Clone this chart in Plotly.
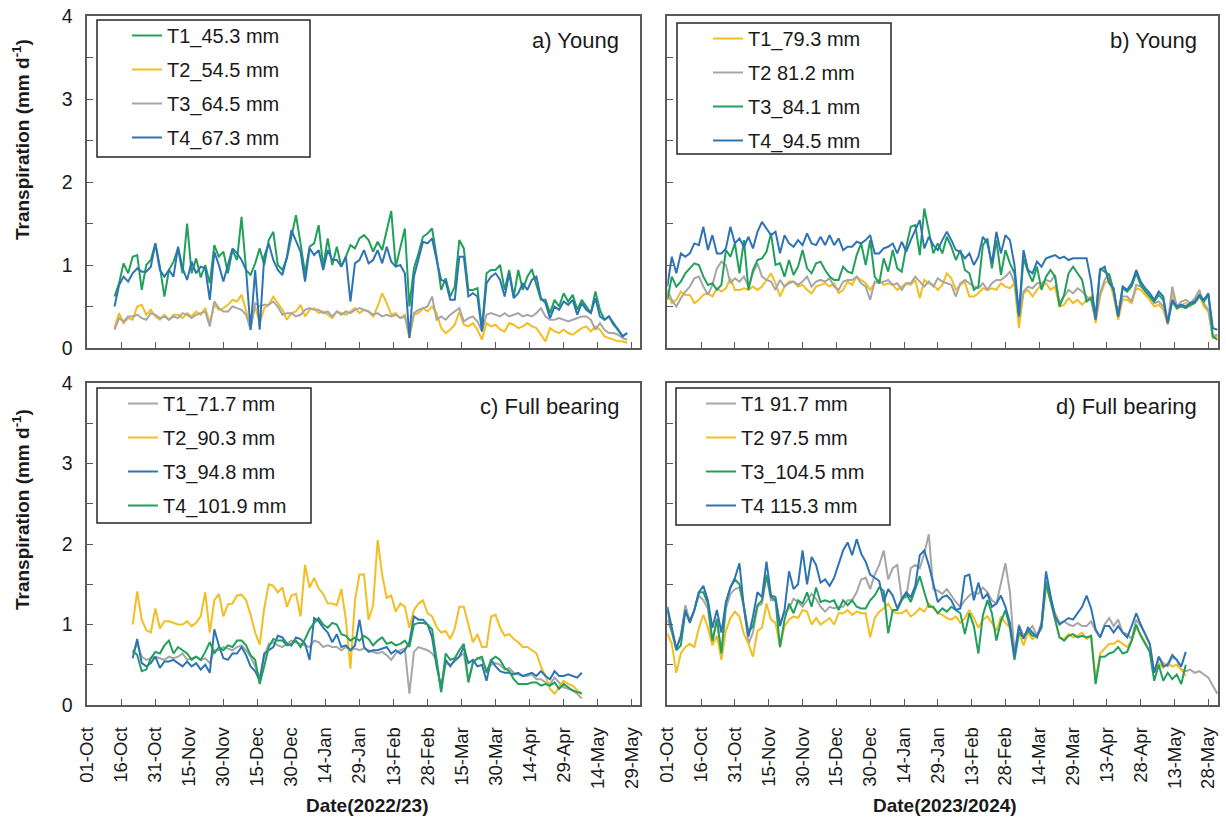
import pandas as pd
import plotly.graph_objects as go

# ---- colours -------------------------------------------------------------
GREEN = "#21A05B"
GOLD = "#F2BE22"
GREY = "#A6A6A6"
BLUE = "#2E74B5"
AXIS = "#595959"
TEXT = "#1a1a1a"
FONT = "Liberation Sans, Arial, sans-serif"

STEP = "2D"  # values are read every second day

# ---- panel a) Young, 2022/23 (first value 13-Oct-2022) -------------------
a_start = "2022-10-13"
a_T1 = [0.62, 0.78, 1.02, 0.90, 1.10, 1.12, 0.70, 1.00, 1.06, 1.26,
        0.98, 0.62, 0.94, 1.04, 1.20, 0.90, 1.50, 0.90, 1.08, 0.85,
        1.00, 0.78, 1.24, 1.10, 1.16, 0.90, 1.18, 1.06, 1.58, 0.94,
        0.88, 1.02, 1.20, 1.00, 1.30, 1.40, 1.00, 0.94, 1.08, 1.36,
        1.60, 1.26, 0.90, 1.22, 1.26, 1.48, 0.98, 1.32, 1.00, 1.22,
        0.98, 1.10, 1.24, 1.20, 1.32, 1.36, 1.30, 1.16, 1.28, 1.18,
        1.40, 1.65, 0.98, 1.22, 1.44, 0.50, 0.96, 1.14, 1.34, 1.38,
        1.44, 1.10, 0.70, 0.84, 0.62, 0.74, 1.30, 1.20, 0.70, 0.70,
        0.72, 0.22, 0.90, 0.94, 0.94, 1.00, 0.70, 0.94, 0.62, 0.94,
        0.70, 0.86, 0.95, 0.76, 0.58, 0.58, 0.42, 0.58, 0.50, 0.66,
        0.56, 0.64, 0.46, 0.58, 0.50, 0.42, 0.68, 0.46, 0.34, 0.38,
        0.30, 0.22, 0.14, 0.18]
a_T2 = [0.24, 0.42, 0.30, 0.36, 0.34, 0.50, 0.52, 0.40, 0.46, 0.38,
        0.34, 0.40, 0.34, 0.40, 0.40, 0.36, 0.42, 0.38, 0.44, 0.40,
        0.48, 0.30, 0.52, 0.46, 0.48, 0.52, 0.58, 0.56, 0.64, 0.46,
        0.26, 0.50, 0.30, 0.48, 0.52, 0.62, 0.54, 0.46, 0.34, 0.42,
        0.44, 0.52, 0.38, 0.46, 0.48, 0.42, 0.44, 0.40, 0.36, 0.44,
        0.42, 0.40, 0.44, 0.48, 0.42, 0.46, 0.44, 0.38, 0.50, 0.66,
        0.54, 0.40, 0.42, 0.36, 0.40, 0.12, 0.40, 0.42, 0.48, 0.44,
        0.50, 0.42, 0.24, 0.18, 0.22, 0.28, 0.44, 0.28, 0.26, 0.30,
        0.22, 0.10, 0.30, 0.26, 0.28, 0.22, 0.20, 0.30, 0.28, 0.24,
        0.26, 0.30, 0.26, 0.24, 0.16, 0.08, 0.24, 0.20, 0.18, 0.22,
        0.18, 0.16, 0.20, 0.24, 0.26, 0.20, 0.26, 0.22, 0.14, 0.12,
        0.10, 0.08, 0.08, 0.06]
a_T3 = [0.22, 0.36, 0.32, 0.38, 0.38, 0.40, 0.36, 0.34, 0.42, 0.40,
        0.36, 0.38, 0.34, 0.38, 0.36, 0.42, 0.40, 0.36, 0.40, 0.42,
        0.44, 0.26, 0.56, 0.48, 0.44, 0.44, 0.50, 0.48, 0.46, 0.40,
        0.22, 0.54, 0.50, 0.52, 0.52, 0.56, 0.50, 0.40, 0.42, 0.42,
        0.38, 0.40, 0.46, 0.48, 0.46, 0.46, 0.42, 0.44, 0.38, 0.44,
        0.40, 0.44, 0.42, 0.46, 0.48, 0.46, 0.44, 0.40, 0.42, 0.38,
        0.40, 0.38, 0.40, 0.36, 0.38, 0.14, 0.42, 0.46, 0.48, 0.50,
        0.62, 0.34, 0.38, 0.34, 0.40, 0.44, 0.48, 0.32, 0.36, 0.38,
        0.32, 0.20, 0.40, 0.42, 0.40, 0.38, 0.42, 0.38, 0.40, 0.42,
        0.38, 0.40, 0.38, 0.42, 0.48, 0.38, 0.34, 0.34, 0.36, 0.34,
        0.32, 0.34, 0.36, 0.38, 0.38, 0.34, 0.22, 0.30, 0.22, 0.18,
        0.18, 0.16, 0.12, 0.10]
a_T4 = [0.50, 0.76, 0.86, 0.80, 0.90, 0.96, 0.92, 0.92, 0.98, 1.26,
        0.94, 0.86, 0.94, 0.86, 1.22, 0.96, 0.82, 1.04, 0.90, 0.98,
        0.96, 0.58, 1.16, 1.00, 0.80, 1.00, 1.20, 1.14, 1.06, 0.94,
        0.22, 0.94, 0.22, 1.10, 1.26, 1.06, 0.94, 0.88, 1.10, 1.42,
        1.28, 1.16, 0.80, 1.20, 1.12, 1.18, 0.94, 1.18, 1.06, 1.06,
        0.98, 1.10, 0.56, 1.02, 1.06, 1.18, 1.02, 1.06, 1.18, 1.02,
        1.22, 1.04, 0.98, 1.00, 0.90, 0.12, 0.86, 1.08, 1.28, 1.26,
        1.32, 1.06, 0.82, 0.80, 0.58, 0.58, 1.10, 1.10, 0.62, 0.66,
        0.62, 0.20, 0.78, 0.86, 0.90, 0.82, 0.62, 0.90, 0.60, 0.66,
        0.78, 0.70, 0.82, 0.86, 0.60, 0.54, 0.36, 0.50, 0.46, 0.56,
        0.52, 0.58, 0.40, 0.54, 0.46, 0.42, 0.60, 0.38, 0.34, 0.38,
        0.28, 0.22, 0.14, 0.18]

# ---- panel b) Young, 2023/2024 (first value 01-Oct-2023) -----------------
b_start = "2023-10-01"
b_T1 = [0.66, 0.54, 0.58, 0.68, 0.64, 0.64, 0.54, 0.58, 0.64, 0.66,
        0.62, 0.72, 0.68, 0.72, 0.84, 0.70, 0.70, 0.72, 0.70, 0.74,
        0.70, 0.74, 0.82, 0.90, 0.78, 0.62, 0.74, 0.80, 0.80, 0.74,
        0.76, 0.70, 0.66, 0.74, 0.76, 0.78, 0.74, 0.78, 0.66, 0.70,
        0.80, 0.76, 0.86, 0.82, 0.78, 0.70, 0.78, 0.82, 0.76, 0.78,
        0.76, 0.70, 0.74, 0.78, 0.76, 0.82, 0.60, 0.82, 0.78, 0.76,
        0.70, 0.76, 0.90, 0.84, 0.70, 0.76, 0.80, 0.62, 0.62, 0.66,
        0.72, 0.70, 0.72, 0.70, 0.78, 0.74, 0.72, 0.78, 0.24, 0.66,
        0.70, 0.62, 0.70, 0.76, 0.78, 0.70, 0.74, 0.50, 0.52, 0.60,
        0.54, 0.58, 0.52, 0.58, 0.62, 0.30, 0.62, 0.78, 0.82, 0.62,
        0.34, 0.58, 0.58, 0.54, 0.72, 0.70, 0.64, 0.58, 0.50, 0.52,
        0.46, 0.28, 0.66, 0.46, 0.52, 0.54, 0.50, 0.56, 0.64, 0.50,
        0.44, 0.12, 0.14]
b_T2 = [0.70, 0.58, 0.50, 0.60, 0.68, 0.74, 0.84, 0.86, 0.74, 0.64,
        0.76, 0.96, 1.04, 1.00, 0.78, 0.84, 0.80, 0.86, 0.74, 0.90,
        1.02, 0.86, 0.82, 0.80, 0.70, 0.82, 0.74, 0.78, 0.80, 0.76,
        0.80, 0.86, 0.74, 0.80, 0.82, 0.80, 0.84, 0.74, 0.70, 0.80,
        0.82, 0.82, 0.86, 0.78, 0.74, 0.58, 0.80, 0.78, 0.80, 0.82,
        0.76, 0.78, 0.70, 0.78, 0.78, 0.86, 0.80, 0.74, 0.80, 0.74,
        0.84, 0.80, 0.78, 0.76, 0.62, 0.78, 0.82, 0.78, 0.74, 0.72,
        0.78, 0.70, 0.78, 0.82, 0.82, 0.86, 0.92, 0.78, 0.36, 0.68,
        0.74, 0.72, 0.78, 0.78, 0.82, 0.80, 0.88, 0.54, 0.62, 0.70,
        0.66, 0.72, 0.68, 0.62, 0.58, 0.34, 0.66, 0.82, 0.90, 0.68,
        0.38, 0.62, 0.62, 0.56, 0.76, 0.74, 0.70, 0.62, 0.54, 0.56,
        0.50, 0.30, 0.74, 0.50, 0.56, 0.58, 0.54, 0.60, 0.70, 0.54,
        0.46, 0.14, 0.16]
b_T3 = [0.58, 0.86, 0.74, 0.80, 0.90, 0.96, 1.02, 1.00, 0.86, 0.76,
        0.78, 0.70, 0.76, 1.18, 1.10, 1.26, 0.90, 1.30, 0.70, 0.94,
        1.06, 1.08, 1.16, 1.38, 1.00, 1.02, 0.86, 1.06, 0.88, 0.98,
        1.18, 0.96, 0.90, 1.02, 1.04, 0.94, 0.86, 0.82, 0.82, 0.98,
        0.92, 0.90, 1.12, 1.26, 1.00, 1.30, 0.86, 0.78, 1.08, 0.92,
        1.18, 0.96, 0.92, 1.22, 1.46, 1.48, 1.12, 1.68, 1.40, 1.14,
        1.26, 1.14, 1.34, 1.22, 1.06, 1.18, 0.94, 0.90, 0.70, 0.74,
        1.24, 1.32, 0.96, 1.30, 0.88, 1.18, 1.02, 0.90, 0.38, 1.08,
        0.92, 0.80, 0.98, 0.70, 0.86, 0.94, 0.86, 0.50, 0.64, 0.90,
        0.98, 0.90, 0.82, 0.56, 0.60, 0.38, 0.96, 0.92, 0.88, 0.68,
        0.38, 0.72, 0.68, 0.74, 0.90, 0.76, 0.68, 0.62, 0.56, 0.64,
        0.58, 0.30, 0.56, 0.48, 0.50, 0.48, 0.52, 0.54, 0.62, 0.56,
        0.64, 0.14, 0.10]
b_T4 = [0.74, 1.10, 0.90, 1.14, 1.10, 1.14, 1.26, 1.24, 1.46, 1.18,
        1.36, 1.14, 1.14, 1.20, 1.46, 1.26, 1.32, 1.22, 1.34, 1.20,
        1.40, 1.52, 1.44, 1.36, 1.40, 1.14, 1.36, 1.26, 1.22, 1.30,
        1.24, 1.38, 1.26, 1.24, 1.34, 1.24, 1.36, 1.24, 1.32, 1.18,
        1.22, 1.22, 1.28, 1.26, 1.30, 1.36, 1.14, 1.14, 1.20, 1.22,
        1.26, 1.14, 1.28, 1.16, 1.30, 1.42, 1.54, 1.20, 1.34, 1.24,
        1.18, 1.30, 1.40, 1.30, 1.18, 1.16, 1.08, 1.14, 1.00, 1.10,
        1.34, 1.26, 1.02, 1.40, 1.14, 1.36, 1.30, 1.00, 0.40, 1.18,
        0.94, 0.90, 1.04, 0.98, 1.08, 1.10, 1.12, 1.08, 1.10, 1.06,
        1.08, 1.08, 1.08, 1.08, 0.80, 0.34, 0.94, 0.98, 0.78, 0.72,
        0.38, 0.74, 0.70, 0.78, 0.94, 0.80, 0.72, 0.66, 0.58, 0.68,
        0.62, 0.30, 0.58, 0.50, 0.52, 0.50, 0.54, 0.56, 0.64, 0.58,
        0.66, 0.24, 0.22]

# ---- panel c) Full bearing, 2022/23 (first value 21-Oct-2022) ------------
c_start = "2022-10-21"
c_T1 = [0.64, 0.76, 0.60, 0.56, 0.58, 0.60, 0.58, 0.56, 0.60, 0.58,
        0.60, 0.64, 0.56, 0.58, 0.60, 0.56, 0.58, 0.52, 0.68, 0.68,
        0.72, 0.70, 0.68, 0.72, 0.74, 0.68, 0.60, 0.48, 0.34, 0.60,
        0.76, 0.78, 0.74, 0.72, 0.76, 0.80, 0.78, 0.76, 0.74, 0.72,
        0.80, 0.78, 0.72, 0.74, 0.72, 0.72, 0.68, 0.72, 0.68, 0.70,
        0.68, 0.70, 0.68, 0.66, 0.64, 0.66, 0.62, 0.56, 0.64, 0.68,
        0.70, 0.14, 0.66, 0.72, 0.70, 0.68, 0.64, 0.56, 0.16, 0.52,
        0.50, 0.54, 0.60, 0.64, 0.30, 0.54, 0.58, 0.56, 0.44, 0.50,
        0.52, 0.50, 0.44, 0.46, 0.40, 0.38, 0.36, 0.36, 0.38, 0.32,
        0.32, 0.28, 0.26, 0.34, 0.28, 0.22, 0.20, 0.18, 0.14, 0.08]
c_T2 = [1.00, 1.41, 1.06, 0.93, 0.90, 1.20, 0.95, 1.04, 1.04, 1.02,
        1.00, 1.00, 1.04, 0.98, 1.02, 1.10, 1.40, 0.90, 1.30, 1.38,
        1.10, 1.25, 1.26, 1.36, 1.37, 1.30, 1.12, 0.90, 0.75, 1.20,
        1.50, 1.48, 1.40, 1.46, 1.22, 1.36, 1.38, 1.10, 1.74, 1.46,
        1.58, 1.45, 1.38, 1.26, 1.26, 1.24, 1.44, 1.06, 0.45, 1.30,
        1.62, 1.62, 1.06, 1.24, 2.05, 1.62, 1.33, 1.36, 1.16, 1.26,
        1.22, 0.96, 1.18, 1.26, 1.30, 1.14, 1.10, 0.97, 0.90, 0.92,
        0.82, 0.95, 1.22, 1.22, 0.98, 0.78, 0.88, 0.72, 0.72, 1.10,
        1.12, 0.96, 0.86, 0.88, 0.82, 0.78, 0.72, 0.72, 0.68, 0.64,
        0.48, 0.36, 0.20, 0.14, 0.22, 0.30, 0.26, 0.24, 0.18, 0.13]
c_T3 = [0.58, 0.82, 0.52, 0.48, 0.52, 0.60, 0.46, 0.54, 0.54, 0.56,
        0.52, 0.48, 0.54, 0.48, 0.52, 0.44, 0.50, 0.40, 0.94, 0.74,
        0.58, 0.56, 0.64, 0.64, 0.72, 0.62, 0.48, 0.42, 0.30, 0.64,
        0.68, 0.72, 0.86, 0.84, 0.76, 0.74, 0.84, 0.82, 0.76, 0.56,
        1.08, 1.04, 0.96, 0.90, 0.78, 0.88, 0.72, 0.74, 0.68, 0.74,
        1.06, 0.72, 0.66, 0.68, 0.68, 0.70, 0.72, 0.64, 0.68, 0.64,
        0.68, 0.78, 1.10, 1.06, 1.06, 1.00, 0.84, 0.48, 0.22, 0.56,
        0.48, 0.56, 0.60, 0.72, 0.52, 0.56, 0.48, 0.50, 0.30, 0.56,
        0.48, 0.42, 0.40, 0.40, 0.38, 0.40, 0.36, 0.38, 0.40, 0.36,
        0.42, 0.36, 0.32, 0.42, 0.36, 0.36, 0.38, 0.36, 0.34, 0.40]
c_T4 = [0.68, 0.62, 0.42, 0.44, 0.58, 0.66, 0.64, 0.74, 0.80, 0.64,
        0.72, 0.68, 0.64, 0.56, 0.60, 0.56, 0.66, 0.78, 0.64, 0.72,
        0.68, 0.74, 0.72, 0.80, 0.80, 0.74, 0.62, 0.56, 0.26, 0.48,
        0.72, 0.82, 0.80, 0.80, 0.74, 0.76, 0.80, 0.72, 0.82, 0.94,
        1.02, 1.08, 1.00, 0.96, 1.02, 1.00, 0.88, 0.86, 0.80, 0.84,
        0.80, 0.86, 0.82, 0.74, 0.80, 0.84, 0.76, 0.78, 0.74, 0.76,
        0.80, 0.72, 1.00, 1.02, 1.02, 1.00, 0.94, 0.56, 0.16, 0.64,
        0.56, 0.58, 0.68, 0.76, 0.28, 0.52, 0.58, 0.60, 0.40, 0.56,
        0.60, 0.56, 0.46, 0.42, 0.32, 0.26, 0.26, 0.26, 0.28, 0.28,
        0.24, 0.26, 0.24, 0.28, 0.20, 0.26, 0.22, 0.18, 0.16, 0.15]

# ---- panel d) Full bearing, 2023/2024 (first value 01-Oct-2023) ----------
d_start = "2023-10-01"
d_T1 = [1.06, 0.90, 0.70, 0.84, 1.24, 1.04, 1.18, 1.36, 1.30, 1.20,
        0.76, 1.08, 0.64, 1.20, 1.38, 1.44, 1.46, 1.22, 0.76, 0.90,
        1.22, 1.26, 1.60, 1.30, 1.30, 1.02, 1.14, 1.20, 1.32, 1.28,
        1.22, 1.30, 1.38, 1.32, 1.22, 1.16, 1.22, 1.20, 1.22, 1.22,
        1.30, 1.30, 1.40, 1.56, 1.58, 1.44, 1.62, 1.74, 1.92, 1.56,
        1.70, 1.74, 1.32, 1.34, 1.70, 1.74, 1.70, 1.88, 2.12, 1.44,
        1.42, 1.38, 1.44, 1.36, 1.28, 1.22, 1.30, 1.36, 1.40, 1.38,
        1.46, 1.40, 1.30, 1.26, 1.50, 1.76, 1.40, 0.64, 1.00, 0.86,
        0.92, 0.98, 0.86, 1.02, 1.54, 1.30, 1.14, 1.02, 1.04, 1.00,
        0.98, 1.02, 0.98, 0.98, 1.04, 0.92, 0.84, 1.00, 1.08, 0.98,
        1.06, 0.90, 0.88, 0.82, 1.06, 0.98, 0.88, 0.76, 0.40, 0.60,
        0.52, 0.48, 0.60, 0.56, 0.44, 0.42, 0.44, 0.40, 0.42, 0.38,
        0.34, 0.24, 0.14]
d_T2 = [0.89, 0.76, 0.40, 0.64, 0.72, 0.76, 0.72, 0.96, 1.12, 0.96,
        0.74, 0.86, 0.56, 0.92, 1.08, 1.16, 1.10, 0.88, 0.76, 0.60,
        0.92, 0.96, 1.26, 1.06, 1.02, 0.72, 0.98, 1.06, 1.10, 1.08,
        1.18, 1.16, 1.00, 1.08, 1.00, 1.04, 1.08, 1.00, 1.14, 1.14,
        1.18, 1.12, 1.16, 1.14, 1.14, 0.84, 1.08, 1.16, 1.20, 1.26,
        1.16, 1.14, 1.14, 1.18, 1.10, 1.14, 1.20, 1.16, 1.26, 1.20,
        1.14, 1.12, 1.08, 1.06, 1.10, 1.02, 1.08, 1.18, 1.08, 0.96,
        1.06, 1.10, 1.02, 0.92, 1.10, 1.02, 0.96, 0.62, 0.90, 0.74,
        0.90, 0.82, 0.86, 0.96, 1.46, 1.30, 1.06, 0.84, 0.82, 0.88,
        0.84, 0.86, 0.90, 0.82, 0.86, 0.32, 0.64, 0.70, 0.76, 0.76,
        0.80, 0.76, 0.72, 0.80, 0.96, 0.88, 0.78, 0.66, 0.40, 0.52,
        0.46, 0.52, 0.48, 0.50, 0.44, 0.36]
d_T3 = [1.18, 0.92, 0.68, 0.74, 1.16, 1.04, 1.18, 1.40, 1.40, 1.26,
        0.80, 1.06, 0.64, 1.26, 1.46, 1.56, 1.50, 1.22, 0.90, 0.98,
        1.24, 1.30, 1.62, 1.34, 1.30, 0.72, 1.06, 1.26, 1.14, 1.30,
        1.26, 1.40, 1.22, 1.46, 1.28, 1.30, 1.28, 1.30, 1.18, 1.30,
        1.24, 1.30, 1.22, 1.20, 1.20, 1.30, 1.36, 1.46, 1.42, 0.89,
        1.18, 1.18, 1.30, 1.38, 1.28, 1.44, 1.60, 1.40, 1.22, 1.22,
        1.14, 1.20, 1.16, 1.22, 1.18, 1.14, 0.88, 1.14, 0.98, 0.64,
        1.12, 1.30, 1.14, 0.80, 1.04, 1.18, 0.96, 0.56, 0.90, 0.84,
        0.92, 0.86, 0.86, 0.96, 1.52, 1.30, 1.06, 0.84, 0.80, 0.86,
        0.88, 0.84, 0.86, 0.84, 0.86, 0.26, 0.60, 0.60, 0.64, 0.66,
        0.72, 0.64, 0.66, 0.80, 1.00, 0.86, 0.76, 0.66, 0.30, 0.50,
        0.30, 0.40, 0.32, 0.38, 0.26, 0.50]
d_T4 = [1.22, 0.98, 0.70, 0.86, 1.18, 1.02, 1.18, 1.40, 1.48, 1.30,
        0.96, 1.18, 0.90, 1.28, 1.46, 1.58, 1.76, 1.20, 0.85, 1.10,
        1.40, 1.34, 1.78, 1.36, 1.34, 0.98, 1.18, 1.66, 1.44, 1.50,
        1.92, 1.50, 1.84, 1.74, 1.52, 1.56, 1.48, 1.58, 1.74, 1.92,
        2.02, 1.86, 2.06, 1.88, 1.78, 1.62, 1.58, 1.54, 1.28, 1.44,
        1.36, 1.20, 1.32, 1.40, 1.34, 1.48, 1.86, 1.92, 1.74, 1.50,
        1.28, 1.34, 1.36, 1.30, 1.18, 1.20, 1.60, 1.62, 1.30, 1.52,
        1.32, 1.38, 1.22, 1.26, 1.36, 1.22, 1.02, 0.60, 0.98, 0.82,
        0.96, 0.90, 0.84, 1.00, 1.66, 1.36, 1.10, 1.00, 1.04, 1.08,
        1.06, 1.14, 1.22, 1.36, 1.20, 0.94, 0.84, 0.98, 0.98, 0.90,
        0.98, 0.90, 0.84, 0.98, 1.14, 1.00, 0.88, 0.76, 0.40, 0.60,
        0.48, 0.50, 0.62, 0.56, 0.48, 0.66]

# ---- legend labels and titles --------------------------------------------
a_names = ["T1_45.3 mm", "T2_54.5 mm", "T3_64.5 mm", "T4_67.3 mm"]
b_names = ["T1_79.3 mm", "T2 81.2 mm", "T3_84.1 mm", "T4_94.5 mm"]
c_names = ["T1_71.7 mm", "T2_90.3 mm", "T3_94.8 mm", "T4_101.9 mm"]
d_names = ["T1 91.7 mm", "T2 97.5 mm", "T3_104.5 mm", "T4 115.3 mm"]
panel_titles = ["a) Young", "b) Young", "c) Full bearing", "d) Full bearing"]
season_titles = ["Date(2022/23)", "Date(2023/2024)"]
y_title = "Transpiration (mm d<sup>-1</sup>)"

y_tick_vals = [0, 0.5, 1, 1.5, 2, 2.5, 3, 3.5, 4]
y_tick_text = ["0", "", "1", "", "2", "", "3", "", "4"]

panels = [
    # (start, series, names, colours, axis suffix, legend id)
    (a_start, [a_T1, a_T2, a_T3, a_T4], a_names, [GREEN, GOLD, GREY, BLUE], "", "legend"),
    (b_start, [b_T1, b_T2, b_T3, b_T4], b_names, [GOLD, GREY, GREEN, BLUE], "2", "legend2"),
    (c_start, [c_T1, c_T2, c_T3, c_T4], c_names, [GREY, GOLD, BLUE, GREEN], "3", "legend3"),
    (d_start, [d_T1, d_T2, d_T3, d_T4], d_names, [GREY, GOLD, GREEN, BLUE], "4", "legend4"),
]

fig = go.Figure()
for p_idx, (start, series, names, colours, sfx, leg) in enumerate(panels):
    for s_idx, (vals, name, col) in enumerate(zip(series, names, colours)):
        x = pd.date_range(start, periods=len(vals), freq=STEP)
        fig.add_trace(go.Scatter(
            x=x, y=vals, mode="lines", name=name,
            line=dict(color=col, width=2),
            xaxis="x" + sfx, yaxis="y" + sfx,
            legend=leg, legendgroup=f"p{p_idx}s{s_idx}",
        ))

# ---- layout ---------------------------------------------------------------
W, H = 1226, 820
left_dom = [87.3 / W, 640 / W]
right_dom = [667.3 / W, 1218 / W]
top_dom = [1 - 348 / H, 1 - 16 / H]
bot_dom = [1 - 705 / H, 1 - 383 / H]

DAY_MS = 86400000
common_axis = dict(showline=True, mirror=True, linecolor=AXIS, linewidth=1.6,
                   ticks="inside", ticklen=6, tickwidth=1.3, tickcolor=AXIS,
                   showgrid=False, zeroline=False, automargin=False)


def x_axis(domain, anchor, season, labels):
    if season == 1:
        rng = ["2022-10-01", "2023-06-01 16:00"]
        t0 = "2022-10-01"
    else:
        rng = ["2023-10-01", "2024-06-01 07:00"]
        t0 = "2023-10-01"
    return dict(common_axis, domain=domain, anchor=anchor, type="date", range=rng,
                tick0=t0, dtick=15 * DAY_MS, tickformat="%d-%b", tickangle=-90,
                showticklabels=labels, ticklabelstandoff=13,
                tickfont=dict(family=FONT, size=18.5, color=TEXT))


def y_axis(domain, anchor, labels):
    return dict(common_axis, domain=domain, anchor=anchor, range=[0, 4],
                tickmode="array", tickvals=y_tick_vals, ticktext=y_tick_text,
                showticklabels=labels, ticklabelstandoff=9,
                tickfont=dict(family=FONT, size=19.5, color=TEXT))


def legend_at(x_px, y_px):
    # frameless legend; its frame is drawn as a separate rectangle
    return dict(x=x_px / W, y=1 - y_px / H, xanchor="left", yanchor="top",
                xref="paper", yref="paper",
                bgcolor="rgba(255,255,255,0)", borderwidth=0,
                font=dict(family=FONT, size=20, color=TEXT),
                tracegroupgap=5, itemwidth=30)


# legend frames (left, top, right, bottom in pixels)
legend_frames = [(97, 20, 310, 157), (677, 23, 891, 154),
                 (97, 388, 311, 523), (676, 388, 890, 525)]

fig.update_layout(
    width=W, height=H,
    margin=dict(l=0, r=0, t=0, b=0, autoexpand=False),
    paper_bgcolor="white", plot_bgcolor="white",
    font=dict(family=FONT, color=TEXT),
    showlegend=True,
    xaxis=x_axis(left_dom, "y", 1, False),
    yaxis=y_axis(top_dom, "x", True),
    xaxis2=x_axis(right_dom, "y2", 2, False),
    yaxis2=y_axis(top_dom, "x2", False),
    xaxis3=x_axis(left_dom, "y3", 1, True),
    yaxis3=y_axis(bot_dom, "x3", True),
    xaxis4=x_axis(right_dom, "y4", 2, True),
    yaxis4=y_axis(bot_dom, "x4", False),
    legend=legend_at(127, 16),
    legend2=legend_at(708, 19),
    legend3=legend_at(123, 384),
    legend4=legend_at(701, 384),
)

for (x0, y0, x1, y1) in legend_frames:
    fig.add_shape(type="rect", xref="paper", yref="paper",
                  x0=x0 / W, x1=x1 / W, y0=1 - y1 / H, y1=1 - y0 / H,
                  line=dict(color="#262626", width=1.5), fillcolor="white",
                  layer="above")

# panel labels in the upper-right corner of each panel
for title, sfx in zip(panel_titles, ["", "2", "3", "4"]):
    fig.add_annotation(text=title, xref=f"x{sfx} domain", yref=f"y{sfx} domain",
                       x=0.966, y=0.927, xanchor="right", yanchor="middle",
                       showarrow=False, font=dict(family=FONT, size=22, color=TEXT))

# y-axis titles (rotated) for the top and bottom rows
for y_px in (140, 510):
    fig.add_annotation(text="<b>" + y_title + "</b>", xref="paper", yref="paper",
                       x=21 / W, y=1 - y_px / H, xanchor="center", yanchor="middle",
                       textangle=-90, showarrow=False,
                       font=dict(family=FONT, size=19, color=TEXT))

# season titles under the bottom row
for title, x_px in zip(season_titles, (367, 945)):
    fig.add_annotation(text="<b>" + title + "</b>", xref="paper", yref="paper",
                       x=x_px / W, y=1 - 805 / H, xanchor="center", yanchor="middle",
                       showarrow=False, font=dict(family=FONT, size=19, color=TEXT))

fig.write_html("out.html")
